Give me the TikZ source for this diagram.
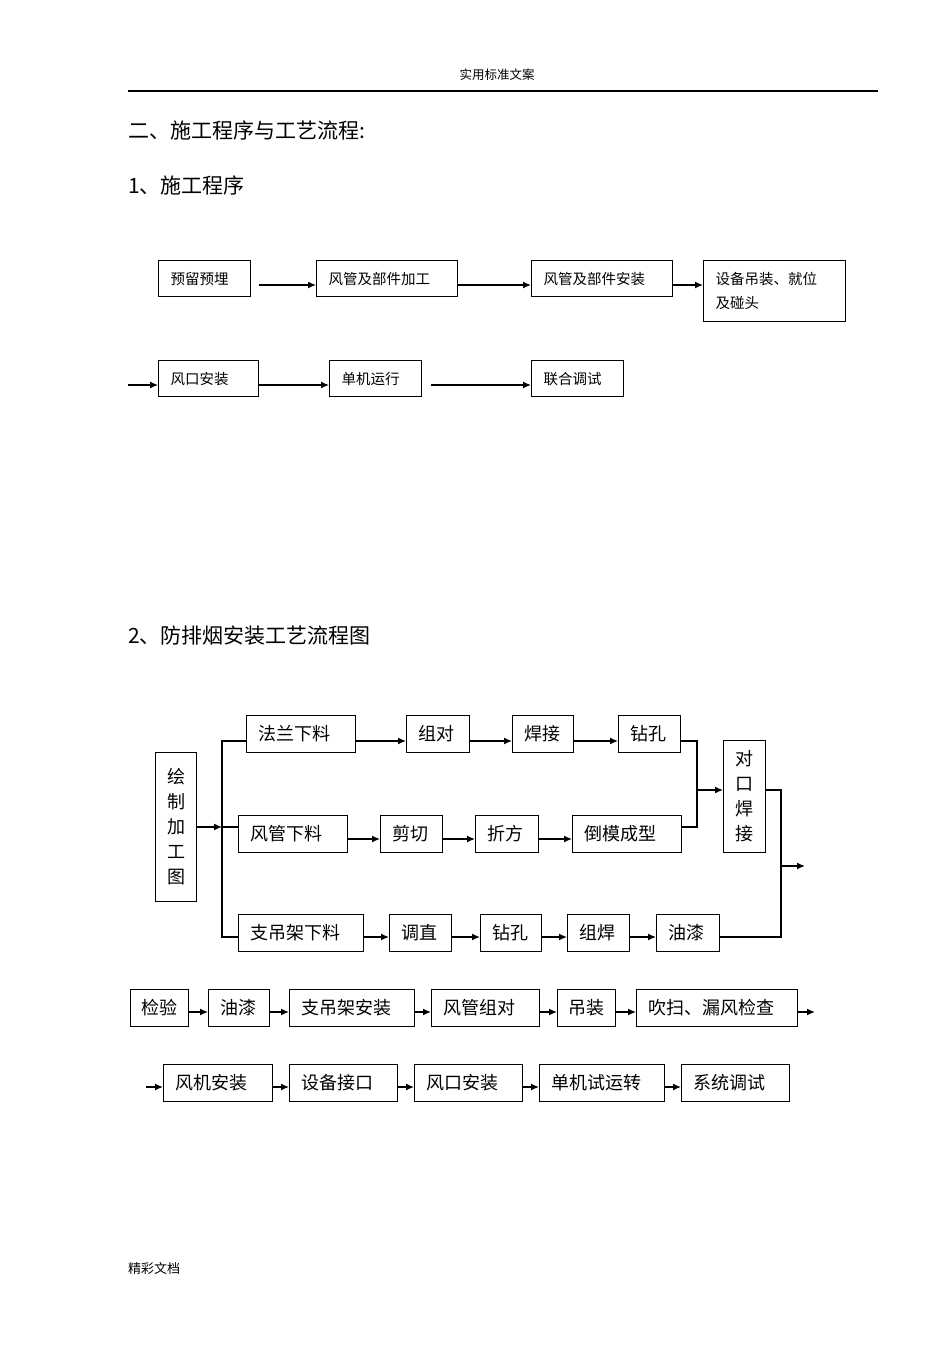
\documentclass[tikz,border=0pt]{standalone}
\usepackage{fontspec}
\setmainfont{Noto Sans CJK SC}
\usetikzlibrary{arrows.meta}

\begin{document}
\begin{tikzpicture}[x=1pt,y=-1pt,>={Latex[length=8pt,width=7pt]},
    box/.style={draw,line width=1.1pt,anchor=north west,inner xsep=12pt,inner ysep=0pt,align=left},
    smallbox/.style={box,minimum height=36pt,font=\fontsize{14.5}{24}\selectfont},
    bigbox/.style={box,minimum height=37pt,font=\fontsize{18}{25}\selectfont},
    tallbox/.style={draw,line width=1.1pt,anchor=north west,inner sep=0pt,align=center,font=\fontsize{18}{25}\selectfont},
    title/.style={anchor=west,inner sep=0pt,font=\fontsize{21}{24}\selectfont},
    link/.style={line width=1.3pt}]
  \useasboundingbox (0,0) rectangle (950,1345);

  % Page header and titles
  \node[inner sep=0pt,font=\fontsize{12.5}{14}\selectfont] (header) at (497,75) {实用标准文案};
  \draw[line width=1.2pt] (128,91) -- (878,91);
  \node[title] (sec) at (128,130) {二、施工程序与工艺流程:};
  \node[title] (sec1) at (128,185) {1、施工程序};
  \node[title] (sec2) at (128,636) {2、防排烟安装工艺流程图};
  \node[anchor=west,inner sep=0pt,font=\fontsize{13}{15}\selectfont] (footer) at (128,1268) {精彩文档};

  % 1. Nodes
  \node[smallbox,text width=68pt] (ylym) at (158,260) {预留预埋};
  \node[smallbox,text width=117pt] (fgjg) at (316,260) {风管及部件加工};
  \node[smallbox,text width=117pt] (fgaz) at (531,260) {风管及部件安装};
  \node[smallbox,text width=118pt,minimum height=61pt] (sbdz) at (703,260) {设备吊装、就位\\及碰头};
  \node[smallbox,text width=76pt] (fkaz1) at (158,360) {风口安装};
  \node[smallbox,text width=68pt] (djyx) at (329,360) {单机运行};
  \node[smallbox,text width=68pt] (lhts) at (531,360) {联合调试};

  % 1. Edges
  \coordinate (r1) at (0,285);
  \coordinate (r2) at (0,385);
  \coordinate (in2) at (128,385);
  \draw[link,->,shorten <=8pt] (ylym.east |- r1) -- (fgjg.west |- r1);
  \draw[link,->] (fgjg.east |- r1) -- (fgaz.west |- r1);
  \draw[link,->] (fgaz.east |- r1) -- (sbdz.west |- r1);
  \draw[link,->] (in2) -- (fkaz1.west |- r2);
  \draw[link,->] (fkaz1.east |- r2) -- (djyx.west |- r2);
  \draw[link,->,shorten <=9pt] (djyx.east |- r2) -- (lhts.west |- r2);

  % 2. Nodes
  \node[tallbox,text width=41pt,minimum height=149pt] (htu) at (155,752) {绘\\制\\加\\工\\图\\[-8pt]};
  \node[bigbox,text width=85pt] (flxl) at (246,715) {法兰下料};
  \node[bigbox,text width=39pt] (zd) at (406,715) {组对};
  \node[bigbox,text width=37pt] (hj) at (512,715) {焊接};
  \node[bigbox,text width=38pt] (zk1) at (618,715) {钻孔};
  \node[tallbox,text width=42pt,minimum height=112pt] (dkhj) at (723,740) {对\\口\\焊\\接};
  \node[bigbox,text width=85pt] (fgxl) at (238,815) {风管下料};
  \node[bigbox,text width=38pt] (jq) at (380,815) {剪切};
  \node[bigbox,text width=39pt] (zf) at (475,815) {折方};
  \node[bigbox,text width=85pt] (dmcx) at (572,815) {倒模成型};
  \node[bigbox,text width=101pt] (zdjxl) at (238,914) {支吊架下料};
  \node[bigbox,text width=38pt] (tz) at (389,914) {调直};
  \node[bigbox,text width=37pt] (zk2) at (480,914) {钻孔};
  \node[bigbox,text width=38pt] (zh) at (567,914) {组焊};
  \node[bigbox,text width=39pt] (yq1) at (656,914) {油漆};

  \node[bigbox,text width=36pt,inner xsep=11pt] (jy) at (130,989) {检验};
  \node[bigbox,text width=37pt] (yq2) at (208,989) {油漆};
  \node[bigbox,text width=101pt] (zdjaz) at (289,989) {支吊架安装};
  \node[bigbox,text width=84pt] (fgzd) at (431,989) {风管组对};
  \node[bigbox,text width=36pt,inner xsep=11pt] (dz) at (557,989) {吊装};
  \node[bigbox,text width=137pt] (cs) at (636,989) {吹扫、漏风检查};
  \node[bigbox,text width=85pt] (fjaz) at (163,1064) {风机安装};
  \node[bigbox,text width=84pt] (sbjk) at (289,1064) {设备接口};
  \node[bigbox,text width=84pt] (fkaz2) at (414,1064) {风口安装};
  \node[bigbox,text width=101pt] (djsy) at (539,1064) {单机试运转};
  \node[bigbox,text width=84pt] (xtts) at (681,1064) {系统调试};

  % 2. Edges
  \coordinate (t) at (0,741);
  \coordinate (m) at (0,839);
  \coordinate (b) at (0,937);
  \coordinate (r3) at (0,1012);
  \coordinate (r4) at (0,1087);
  \coordinate (split) at (222,827);
  \coordinate (join) at (697,790);
  \coordinate (merge) at (781,866);
  \coordinate (out1) at (805,866);
  \coordinate (out3) at (815,1012);
  \coordinate (in4) at (146,1087);

  \draw[link,->] (htu.east |- split) -- (split);
  \draw[link] (flxl.west |- t) -| (split) |- (zdjxl.west |- b);
  \draw[link] (split) -- (fgxl.west |- split);

  \draw[link,->] (flxl.east |- t) -- (zd.west |- t);
  \draw[link,->] (zd.east |- t) -- (hj.west |- t);
  \draw[link,->] (hj.east |- t) -- (zk1.west |- t);
  \draw[link,->] (fgxl.east |- m) -- (jq.west |- m);
  \draw[link,->] (jq.east |- m) -- (zf.west |- m);
  \draw[link,->] (zf.east |- m) -- (dmcx.west |- m);
  \draw[link,->] (zdjxl.east |- b) -- (tz.west |- b);
  \draw[link,->] (tz.east |- b) -- (zk2.west |- b);
  \draw[link,->] (zk2.east |- b) -- (zh.west |- b);
  \draw[link,->] (zh.east |- b) -- (yq1.west |- b);

  \draw[link] (zk1.east |- t) -| (join) |- (dmcx.east |- split);
  \draw[link,->] (join) -- (dkhj.west |- join);
  \draw[link] (dkhj.east |- join) -| (merge) |- (yq1.east |- b);
  \draw[link,->] (merge) -- (out1);

  \draw[link,->] (jy.east |- r3) -- (yq2.west |- r3);
  \draw[link,->] (yq2.east |- r3) -- (zdjaz.west |- r3);
  \draw[link,->] (zdjaz.east |- r3) -- (fgzd.west |- r3);
  \draw[link,->] (fgzd.east |- r3) -- (dz.west |- r3);
  \draw[link,->] (dz.east |- r3) -- (cs.west |- r3);
  \draw[link,->] (cs.east |- r3) -- (out3);

  \draw[link,->] (in4) -- (fjaz.west |- r4);
  \draw[link,->] (fjaz.east |- r4) -- (sbjk.west |- r4);
  \draw[link,->] (sbjk.east |- r4) -- (fkaz2.west |- r4);
  \draw[link,->] (fkaz2.east |- r4) -- (djsy.west |- r4);
  \draw[link,->] (djsy.east |- r4) -- (xtts.west |- r4);
\end{tikzpicture}
\end{document}
